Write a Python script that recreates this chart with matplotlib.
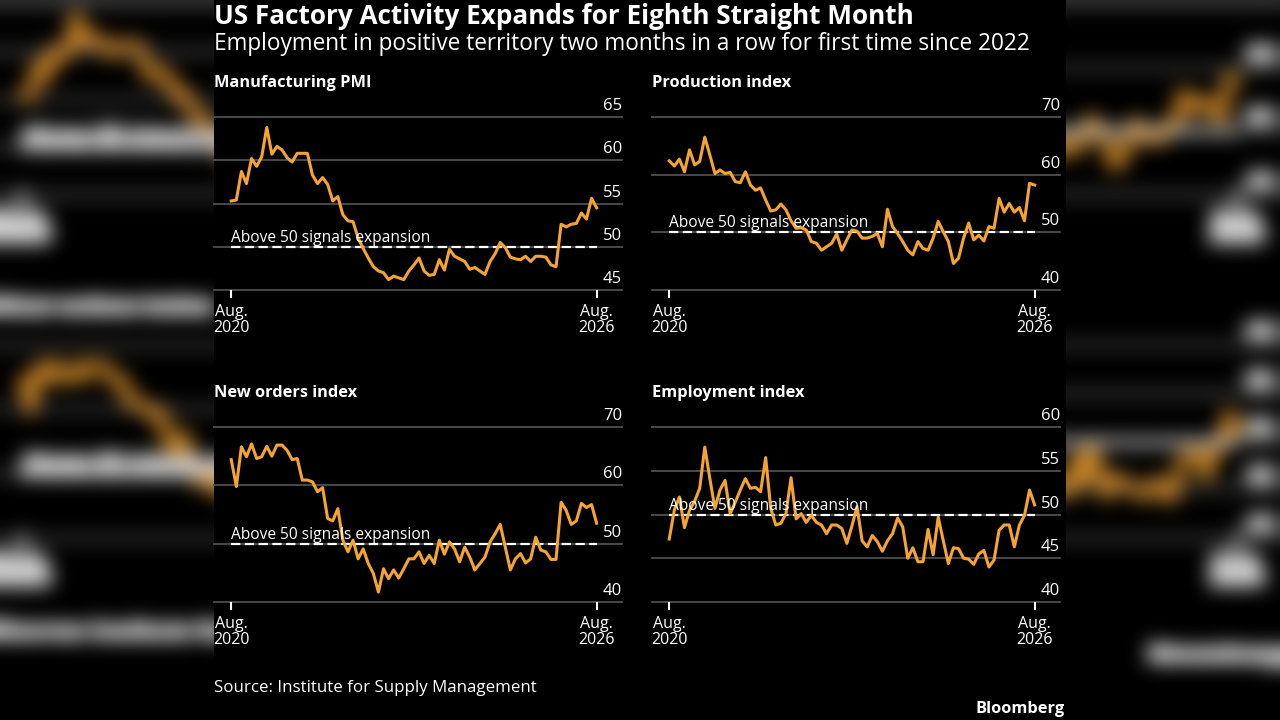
import numpy as np
import matplotlib
matplotlib.use('Agg')
import matplotlib.pyplot as plt
from matplotlib import transforms
from matplotlib.patches import Rectangle

plt.rcParams['font.family'] = ['Open Sans', 'DejaVu Sans']

# monthly readings, Aug 2020 .. Aug 2026
months = np.arange(73)
tick_pos = [0, 72]
tick_labels = ['Aug.\n2020', 'Aug.\n2026']

pmi = [55.3, 55.4, 58.7, 57.3, 60.2, 59.3, 60.4, 63.8, 60.7, 61.6,
       61.2, 60.3, 59.8, 60.8, 60.8, 60.8, 58.3, 57.3, 58.0, 57.2,
       55.3, 55.8, 53.7, 53.0, 52.9, 51.0, 49.8, 48.7, 47.7, 47.2,
       47.0, 46.2, 46.6, 46.4, 46.2, 47.2, 47.9, 48.7, 47.2, 46.7,
       46.8, 48.5, 47.3, 49.7, 48.9, 48.6, 48.3, 47.4, 47.6, 47.2,
       46.8, 48.3, 49.2, 50.5, 49.9, 48.8, 48.6, 48.5, 48.9, 48.3,
       48.9, 48.9, 48.8, 47.9, 47.7, 52.6, 52.3, 52.6, 52.7, 53.9,
       53.2, 55.6, 54.5]

production = [62.4, 61.5, 62.7, 60.5, 64.3, 61.7, 62.3, 66.5, 63.4, 60.2,
              60.8, 60.2, 60.4, 58.8, 58.6, 60.5, 58.2, 57.3, 57.7, 55.6,
              53.7, 53.9, 54.9, 53.9, 52.0, 50.7, 50.8, 50.4, 48.4, 48.1,
              46.9, 47.5, 48.1, 49.7, 46.9, 48.7, 50.4, 50.2, 49.0, 49.0,
              49.3, 49.8, 47.5, 54.0, 51.0, 49.8, 48.4, 46.9, 46.1, 48.4,
              47.2, 46.9, 49.0, 51.9, 50.1, 48.4, 44.6, 45.5, 49.0, 51.6,
              48.7, 49.5, 48.5, 51.0, 50.7, 55.9, 53.5, 55.0, 53.5, 54.3,
              52.0, 58.5, 58.2]

new_orders = [64.4, 59.8, 66.6, 64.9, 67.1, 64.6, 64.9, 66.7, 65.0, 66.9,
              66.9, 66.0, 64.4, 64.6, 60.9, 60.9, 60.6, 58.9, 59.6, 54.3,
              53.9, 56.0, 50.6, 48.6, 50.6, 47.4, 49.1, 46.6, 44.9, 41.7,
              45.7, 44.0, 45.5, 44.1, 45.7, 47.4, 47.4, 48.6, 46.6, 48.0,
              46.6, 50.6, 48.2, 50.3, 49.1, 46.9, 49.4, 47.7, 45.5, 46.6,
              47.7, 50.3, 51.7, 53.3, 49.4, 45.5, 47.4, 48.3, 46.7, 47.4,
              51.1, 48.9, 48.6, 47.3, 47.3, 57.1, 55.7, 53.3, 53.9, 56.9,
              56.2, 56.7, 53.5]

employment = [47.2, 50.5, 52.0, 48.5, 50.5, 51.5, 53.0, 57.7, 54.1, 50.7,
              52.8, 53.9, 50.1, 51.4, 52.8, 54.1, 53.0, 53.1, 52.6, 56.5,
              50.7, 48.8, 49.0, 50.1, 54.2, 49.5, 50.1, 49.1, 49.9, 49.1,
              48.8, 47.8, 48.8, 48.8, 48.4, 46.7, 48.7, 50.9, 47.0, 46.3,
              47.6, 46.9, 45.8, 47.0, 47.8, 49.6, 48.6, 45.0, 46.2, 44.6,
              44.6, 48.3, 45.4, 49.7, 47.0, 44.4, 46.2, 46.1, 45.0, 44.9,
              44.3, 45.5, 45.9, 44.0, 44.8, 48.2, 48.8, 48.8, 46.3, 48.8,
              49.9, 52.8, 51.1]

titles = ['Manufacturing PMI', 'Production index', 'New orders index', 'Employment index']
series = [pmi, production, new_orders, employment]
y_ticks = [[45, 50, 55, 60, 65], [40, 50, 60, 70], [40, 50, 60, 70], [40, 45, 50, 55, 60]]

W, H = 1280, 720
ORANGE = '#f6a431'
GRID = '#4f4f4f'

# panel boxes in pixels: x0, y0(top), x1, y1(bottom)
boxes = [(214, 117, 622, 290), (652, 117, 1060, 290),
         (214, 427, 622, 602), (652, 427, 1060, 602)]


def rect(b):
    x0, y0, x1, y1 = b
    return [x0 / W, 1 - y1 / H, (x1 - x0) / W, (y1 - y0) / H]


fig = plt.figure(figsize=(12.8, 7.2), dpi=100, facecolor='black')

for title, vals, ticks, box in zip(titles, series, y_ticks, boxes):
    ax = fig.add_axes(rect(box))
    ax.set_facecolor('none')
    ax.set_xlim(-3.4, 77)
    ax.set_ylim(ticks[0], ticks[-1])
    for s in ax.spines.values():
        s.set_visible(False)

    lab_tr = transforms.offset_copy(ax.get_yaxis_transform(), fig=fig, x=0, y=5, units='points')
    for v in ticks:
        ax.axhline(v, color=GRID, lw=1.3, clip_on=False, zorder=1)
        ax.text(1, v, str(v), transform=lab_tr, ha='right', va='baseline',
                color='white', fontsize=12, clip_on=False)

    ax.plot([months[0], months[-1]], [50, 50], color='white', lw=1.6,
            dashes=(4.2, 2.0), zorder=2)
    ann_tr = transforms.offset_copy(ax.transData, fig=fig, x=0, y=3.5, units='points')
    ax.text(0, 50, 'Above 50 signals expansion', transform=ann_tr, ha='left',
            va='baseline', color='white', fontsize=11.2, zorder=4)

    ax.plot(months, vals, color=ORANGE, lw=2.2, zorder=3)

    ax.set_xticks(tick_pos, tick_labels)
    ax.tick_params(axis='x', length=6, width=1.5, color='white', labelcolor='white',
                   labelsize=11.5, pad=4)
    for lab in ax.get_xticklabels():
        lab.set_linespacing(1.05)
    ax.tick_params(axis='y', left=False, labelleft=False)

    fig.text(box[0] / W, 1 - (box[1] - 30) / H, title, color='white',
             fontsize=11.8, fontweight='bold', ha='left', va='baseline')

fig.text(214 / W, 1 - 24 / H, 'US Factory Activity Expands for Eighth Straight Month',
         color='white', fontsize=18.8, fontweight='bold', ha='left', va='baseline')
fig.text(214 / W, 1 - 50 / H,
         'Employment in positive territory two months in a row for first time since 2022',
         color='white', fontsize=16.3, ha='left', va='baseline')
fig.text(214 / W, 1 - 692 / H, 'Source: Institute for Supply Management',
         color='white', fontsize=12.2, ha='left', va='baseline')
fig.text(1065 / W, 1 - 713 / H, 'Bloomberg', color='white', fontsize=11.8,
         fontweight='bold', ha='right', va='baseline')


# blurred, enlarged copy of the chart behind the side margins
def max_filter(a, r, axis):
    b = np.moveaxis(a, axis, 0)
    out = b.copy()
    for d in range(1, r + 1):
        out[d:] = np.maximum(out[d:], b[:-d])
        out[:-d] = np.maximum(out[:-d], b[d:])
    return np.moveaxis(out, 0, axis)


def box_blur(a, r, axis):
    b = np.moveaxis(a, axis, 0)
    pad = np.concatenate([np.repeat(b[:1], r + 1, 0), b, np.repeat(b[-1:], r, 0)], 0)
    c = np.cumsum(pad, 0)
    out = (c[2 * r + 1:] - c[:-2 * r - 1]) / (2 * r + 1)
    return np.moveaxis(out, 0, axis)


fig.canvas.draw()
src = np.asarray(fig.canvas.buffer_rgba())[:, :, :3].astype(float) / 255.0
h, w = src.shape[:2]
sx = (640 + (np.arange(w) - 640) / 1.511).astype(int).clip(0, w - 1)
sy = (360 + (np.arange(h) - 271) / 1.1).astype(int)
valid = sy < h
bg = src[sy.clip(0, h - 1)][:, sx]
bg[~valid] = 0
for axis in (0, 1):
    bg = max_filter(bg, 3, axis)
for _ in range(3):
    for axis in (0, 1):
        bg = box_blur(bg, 9, axis)
bg = (bg * 0.85).clip(0, 1)

bg_ax = fig.add_axes([0, 0, 1, 1], zorder=-10)
bg_ax.imshow(bg, aspect='auto', interpolation='nearest')
bg_ax.set_axis_off()
fig.add_artist(Rectangle((214 / W, 0), 852 / W, 1, transform=fig.transFigure,
                         facecolor='black', edgecolor='none', zorder=-5))

fig.savefig('out.png', dpi=100, facecolor='black')
